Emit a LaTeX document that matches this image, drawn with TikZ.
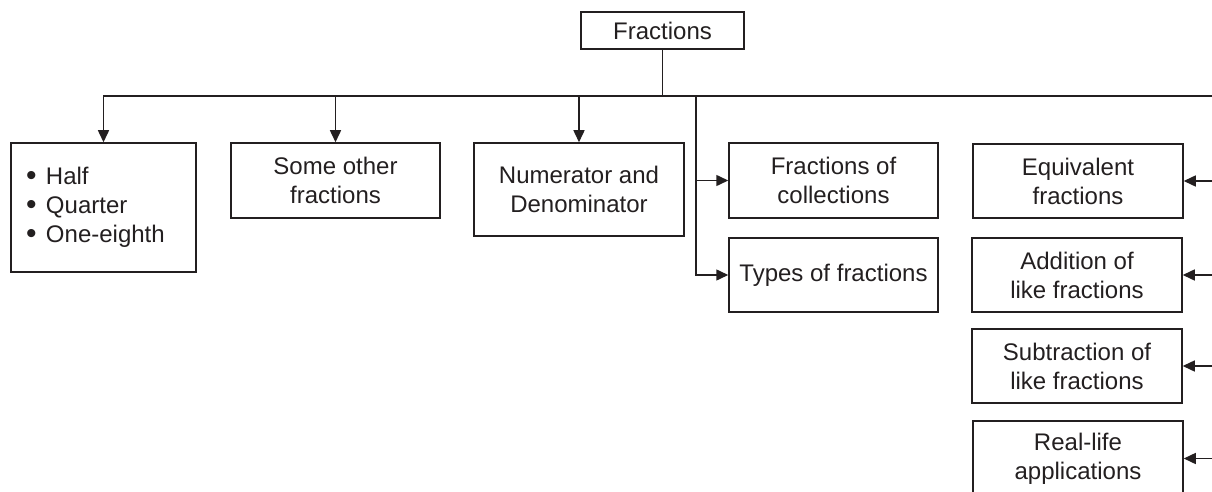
\documentclass[tikz,border=0pt]{standalone}
\usepackage{fontspec}
\setmainfont{Liberation Sans}
\usetikzlibrary{arrows.meta}
\definecolor{ink}{HTML}{231F20}
\newcommand{\bul}{\makebox[20pt][l]{\raisebox{-0.5pt}{\scalebox{1.25}{•}}}}
\begin{document}
\begin{tikzpicture}[x=1pt,y=-1pt,
 box/.style={draw=ink, text=ink, line width=1.5pt, inner sep=0pt, align=center, font=\fontsize{24}{29}\selectfont},
 arr/.style={draw=ink, line width=1.5pt, -{Triangle[length=12pt,width=11pt]}},
 ln/.style={draw=ink, line width=1.5pt}]
\useasboundingbox (0,0) rectangle (1212,492);
\node[box, minimum width=163, minimum height=37] (root) at (662.5,30.5) {Fractions};
\node[box, minimum width=185, minimum height=129, inner xsep=15pt, text width=155pt, align=left] (b1) at (103.5,207.5)
 {\bul Half\\\bul Quarter\\\bul One-eighth};
\node[box, minimum width=209, minimum height=75] (b2) at (335.5,180.5) {Some other\\fractions};
\node[box, minimum width=210, minimum height=93] (b3) at (579,189.5) {Numerator and\\Denominator};
\node[box, minimum width=209, minimum height=75] (b4) at (833.5,180.5) {Fractions of\\collections};
\node[box, minimum width=209, minimum height=74] (b5) at (833.5,275) {Types of fractions};
\node[box, minimum width=210, minimum height=74] (b6) at (1078,181) {Equivalent\\fractions};
\node[box, minimum width=210, minimum height=74] (b7) at (1077,275) {Addition of\\like fractions};
\node[box, minimum width=210, minimum height=74] (b8) at (1077,366) {Subtraction of\\like fractions};
\node[box, minimum width=210, minimum height=75] (b9) at (1078,458.5) {Real-life\\applications};
\coordinate (bus) at (0,96);
\coordinate (bL) at (b1.north |- bus);
\coordinate (bR) at (1212,96);
\coordinate (vT) at (696,96);
\draw[ln] (root.south) -- (root.south |- bus);
\draw[arr] (bR) -- (bL) -- (b1.north);
\draw[arr] (b2.north |- bus) -- (b2.north);
\draw[arr] (b3.north |- bus) -- (b3.north);
\draw[arr] (vT) |- (b5.west);
\draw[arr] (vT |- b4.west) -- (b4.west);
\draw[arr] (b6.east -| bR) -- (b6.east);
\draw[arr] (b7.east -| bR) -- (b7.east);
\draw[arr] (b8.east -| bR) -- (b8.east);
\draw[arr] (b9.east -| bR) -- (b9.east);
\end{tikzpicture}
\end{document}
